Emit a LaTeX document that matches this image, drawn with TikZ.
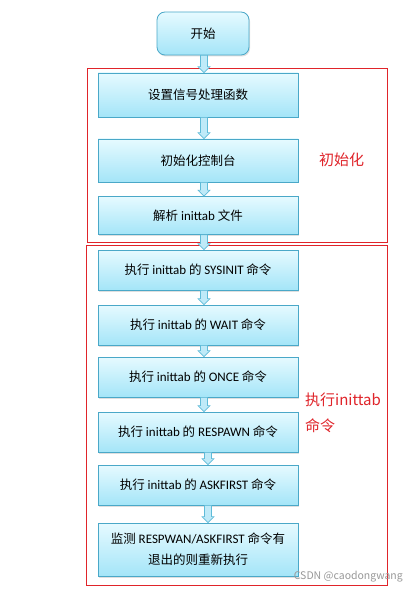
\documentclass[tikz,border=0pt]{standalone}
\usepackage{fontspec}
\setmainfont{Noto Sans CJK SC}
\newfontfamily\latf{Carlito}
\usetikzlibrary{shadows,calc}
\newcommand\lt[1]{{\latf\fontsize{13}{16}\selectfont #1}}
\definecolor{boxline}{HTML}{4AA8C8}
\definecolor{boxtop}{HTML}{E6FAFF}
\definecolor{boxbot}{HTML}{A4E5F8}
\definecolor{arrfill}{HTML}{BFEAF8}
\definecolor{arrline}{HTML}{5FBBD8}
\definecolor{groupred}{HTML}{E0242A}
\tikzset{
  pbox/.style={draw=boxline, line width=0.8pt, top color=boxtop, bottom color=boxbot,
    minimum width=200pt, inner sep=0pt, align=center,
    font=\fontsize{12.5}{21}\selectfont,
    drop shadow={shadow xshift=1pt, shadow yshift=-1.5pt, opacity=0.25}},
  startbox/.style={pbox, rounded corners=8pt, minimum width=92pt, minimum height=43pt},
  grp/.style={draw=groupred, line width=0.9pt},
  grplabel/.style={text=groupred, font=\fontsize{15}{26}\selectfont, align=left, anchor=west, inner sep=0pt},
  barr/.style={fill=arrfill, draw=arrline, line width=0.6pt, line join=miter},
  wmark/.style={text=black!40, font=\fontsize{10.5}{12}\selectfont, inner sep=0pt}
}
\newcommand\blockarrow[3]{%
  \path (#1.south -| #3) coordinate (bs) (#2.north -| #3) coordinate (be);
  \draw[barr] ($(bs)+(-3.5,0)$) -- ($(be)+(-3.5,-6)$) -- ($(be)+(-6,-6)$) -- (be)
    -- ($(be)+(6,-6)$) -- ($(be)+(3.5,-6)$) -- ($(bs)+(3.5,0)$) -- cycle;}
\begin{document}
\begin{tikzpicture}[x=1pt, y=-1pt]
\useasboundingbox (0,0) rectangle (419,593);
\fill[white] (0,0) rectangle (419,593);
% group frames
\draw[grp] (87,68) rectangle (387,242);
\draw[grp] (86,245) rectangle (387,585);
\node[grplabel] (lab1) at (319,160) {初始化};
\node[grplabel] (lab2) at (305,413) {执行inittab\\命令};
% x positions for arrows
\coordinate (ax) at (204,0);
\coordinate (bx) at (208,0);
% nodes
\node[startbox] (start) at (203,33.5) {开始};
\node[pbox, minimum height=44pt] (b1) at (198,95) {设置信号处理函数};
\node[pbox, minimum height=43pt] (b2) at (198,160.5) {初始化控制台};
\node[pbox, minimum height=38pt] (b3) at (198,215.5) {解析 \lt{inittab} 文件};
\node[pbox, minimum height=40pt] (b4) at (198,270) {执行 \lt{inittab} 的 \lt{SYSINIT} 命令};
\node[pbox, minimum height=40pt] (b5) at (198,325) {执行 \lt{inittab} 的 \lt{WAIT} 命令};
\node[pbox, minimum height=40pt] (b6) at (198,377) {执行 \lt{inittab} 的 \lt{ONCE} 命令};
\node[pbox, minimum height=40pt] (b7) at (198,432) {执行 \lt{inittab} 的 \lt{RESPAWN} 命令};
\node[pbox, minimum height=40pt] (b8) at (198,485) {执行 \lt{inittab} 的 \lt{ASKFIRST} 命令};
\node[pbox, minimum height=53pt] (b9) at (198,549.5) {监测 \lt{RESPWAN/ASKFIRST} 命令有\\退出的则重新执行};
% arrows
\blockarrow{start}{b1}{ax}
\blockarrow{b1}{b2}{ax}
\blockarrow{b2}{b3}{ax}
\blockarrow{b3}{b4}{ax}
\blockarrow{b4}{b5}{ax}
\blockarrow{b5}{b6}{ax}
\blockarrow{b6}{b7}{ax}
\blockarrow{b7}{b8}{bx}
\blockarrow{b8}{b9}{bx}
% watermark
\node[wmark, anchor=east] (wm) at (403,577) {CSDN @caodongwang};
\end{tikzpicture}
\end{document}
